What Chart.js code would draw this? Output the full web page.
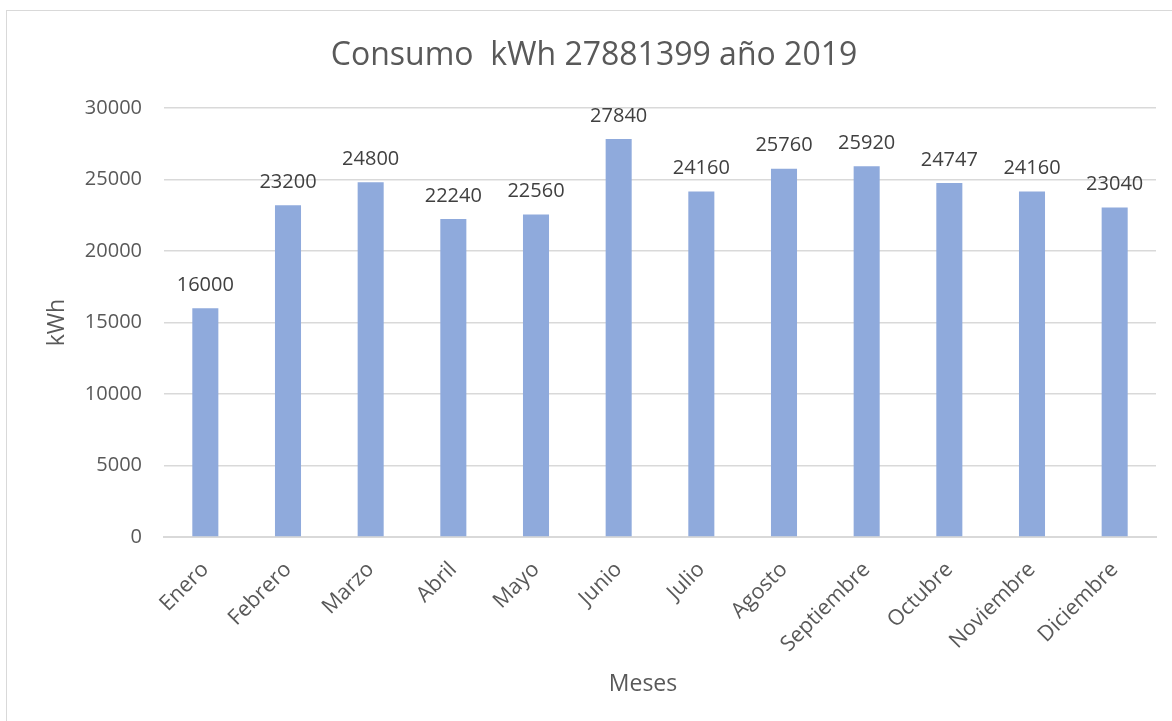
<!DOCTYPE html>
<html><head><meta charset="utf-8">
<script src="https://cdn.jsdelivr.net/npm/chart.js@4/dist/chart.umd.min.js"></script>
<style>
html,body{margin:0;padding:0;background:#fff;overflow:hidden;}
#wrap{position:absolute;left:0;top:0;width:1172px;height:721px;overflow:hidden;}
#frame{position:absolute;left:6px;top:10px;width:1200px;height:760px;border:1.5px solid #d9d9d9;box-sizing:border-box;}
canvas{position:absolute;left:0;top:0;}
</style></head>
<body>
<div id="wrap"><div id="frame"></div><canvas id="c" width="1172" height="721"></canvas></div>
<script>
const months = ['Enero','Febrero','Marzo','Abril','Mayo','Junio','Julio','Agosto','Septiembre','Octubre','Noviembre','Diciembre'];
const consumo = [16000,23200,24800,22240,22560,27840,24160,25760,25920,24747,24160,23040];
const yTicks = [0,5000,10000,15000,20000,25000,30000];
const titleText = 'Consumo  kWh 27881399 año 2019';

const FONT = "'Open Sans', sans-serif";
const txt = '#595959';

const valueLabels = {
  id:'valueLabels',
  afterDatasetsDraw(chart){
    const ctx = chart.ctx;
    const meta = chart.getDatasetMeta(0);
    ctx.save();
    ctx.font = "20px " + FONT;
    ctx.fillStyle = '#404040';
    ctx.textAlign = 'center';
    ctx.textBaseline = 'bottom';
    meta.data.forEach((bar,i)=>{
      ctx.fillText(String(chart.data.datasets[0].data[i]), bar.x, bar.y - 13);
    });
    ctx.restore();
  }
};

const shifts = {
  id:'shifts',
  afterLayout(chart){
    const t = chart.titleBlock;
    if (t) { t.left += 12; t.right += 12; }
    const s = chart.scales.x;
    if (!s._patched) {
      const orig = s.drawTitle;
      s.drawTitle = function(){
        const l = this.left, r = this.right;
        this.left -= 17; this.right -= 17;
        orig.apply(this, arguments);
        this.left = l; this.right = r;
      };
      s._patched = true;
    }
  }
};

new Chart(document.getElementById('c'), {
  type:'bar',
  data:{labels:months, datasets:[{data:consumo, backgroundColor:'#8faadc', categoryPercentage:1, barPercentage:0.315}]},
  options:{
    responsive:false, animation:false,
    layout:{padding:{left:8,right:16,top:0,bottom:10}},
    plugins:{
      legend:{display:false}, tooltip:{enabled:false},
      title:{display:true, text:titleText, color:txt, font:{family:FONT,size:32,weight:'normal'}, padding:{top:37,bottom:32.6}}
    },
    scales:{
      x:{
        afterFit(scale){ scale.height = 721 - 537 - 10; },
        grid:{display:false, drawTicks:false},
        border:{display:true, color:'#d9d9d9', width:2},
        ticks:{color:txt, font:{family:FONT,size:21.5}, maxRotation:45, minRotation:45, padding:20, autoSkip:false},
        title:{display:true, text:'Meses', color:txt, font:{family:FONT,size:23}, padding:{top:10,bottom:13}}
      },
      y:{
        min:0, max:30000,
        afterFit(scale){ scale.width = 164 - 8; },
        afterBuildTicks(scale){ scale.ticks = yTicks.map(v=>({value:v})); },
        grid:{color:'#d9d9d9', lineWidth:1.5, drawTicks:false},
        border:{display:false},
        ticks:{color:txt, font:{family:FONT,size:20}, padding:22, callback:(v)=>String(v)},
        title:{display:true, text:'kWh', color:txt, font:{family:FONT,size:23}, padding:{top:36,bottom:0}}
      }
    }
  },
  plugins:[shifts, valueLabels]
});
</script>
</body></html>
